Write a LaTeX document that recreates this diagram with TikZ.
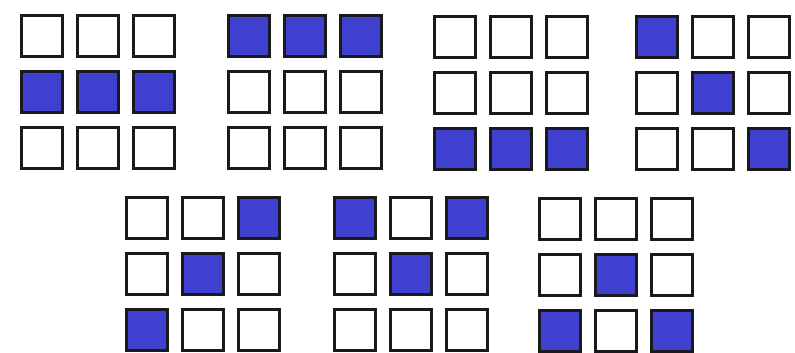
\documentclass[tikz,border=0pt]{standalone}
\definecolor{cellblue}{RGB}{64,64,208}
\definecolor{celledge}{RGB}{25,25,30}
\begin{document}
\begin{tikzpicture}[x=1pt,y=-1pt,
  cell/.style={draw=celledge, line width=3pt, fill=white, minimum size=41pt, inner sep=0pt, outer sep=0pt, rectangle},
  cellon/.style={cell, fill=cellblue}]
\useasboundingbox (0,0) rectangle (795,353);
\foreach \gx/\gy/\g/\pat in {
  42/36/a/{0,0,0,1,1,1,0,0,0},
  249/36/b/{1,1,1,0,0,0,0,0,0},
  455/37/c/{0,0,0,0,0,0,1,1,1},
  657/37/d/{1,0,0,0,1,0,0,0,1},
  147/218/e/{0,0,1,0,1,0,1,0,0},
  355/218/f/{1,0,1,0,1,0,0,0,0},
  560/219/g/{0,0,0,0,1,0,1,0,1}} {
  \foreach \v [count=\k from 0] in \pat {
    \pgfmathtruncatemacro{\col}{mod(\k,3)}
    \pgfmathtruncatemacro{\row}{int(\k/3)}
    \ifnum\v=1
      \node[cellon] (\g\k) at (\gx+55.8*\col, \gy+56*\row) {};
    \else
      \node[cell] (\g\k) at (\gx+55.8*\col, \gy+56*\row) {};
    \fi
  }
}
\end{tikzpicture}
\end{document}
